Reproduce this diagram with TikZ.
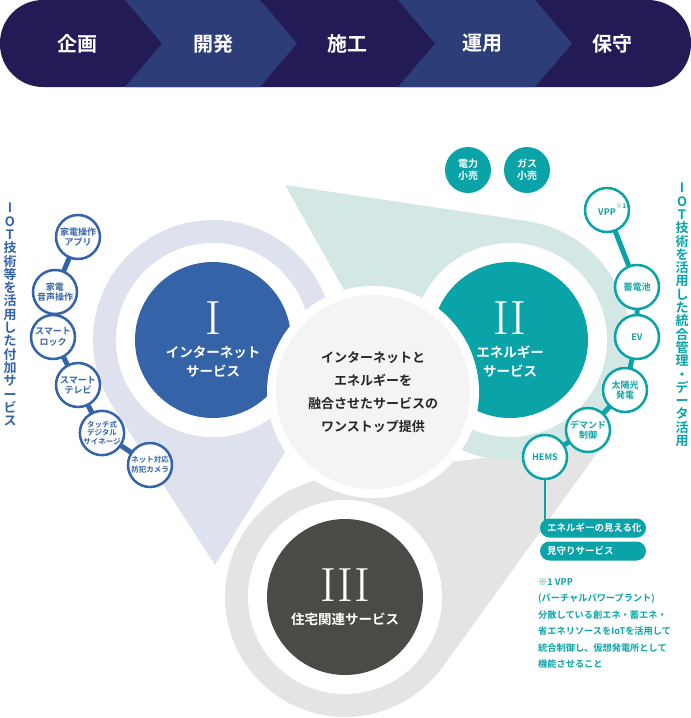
\documentclass[tikz,border=0pt]{standalone}
\usepackage{fontspec}
\setmainfont{Noto Sans CJK JP}[BoldFont=Noto Sans CJK JP Bold]
\newfontfamily\numfont{Latin Modern Roman}
\usetikzlibrary{positioning,calc}
\definecolor{navy1}{HTML}{231B55}
\definecolor{navy2}{HTML}{2D3D78}
\definecolor{blue1}{HTML}{3463A8}
\definecolor{teal1}{HTML}{0AA3A8}
\definecolor{dark1}{HTML}{4A4A46}
\definecolor{lav1}{HTML}{DDE2EE}
\definecolor{mint1}{HTML}{D3E8E5}
\definecolor{gray1}{HTML}{E4E4E4}
\definecolor{pale1}{HTML}{F4F4F4}
\begin{document}
\begin{tikzpicture}[x=1pt,y=-1pt,
    stage/.style={font=\fontsize{20}{20}\selectfont\bfseries, text=white},
    big/.style={circle, minimum size=156pt, inner sep=0pt, text=white, align=center,
                font=\fontsize{13.5}{19}\selectfont\bfseries},
    halo/.style={circle, minimum size=240pt, inner sep=0pt},
    ring/.style={circle, fill=white, minimum size=194pt, inner sep=0pt},
    item/.style={circle, draw=#1, line width=2.5pt, fill=white, text=#1, minimum size=44pt,
                 inner sep=0pt, align=center, font=\fontsize{9}{10.5}\selectfont\bfseries},
    fitem/.style={circle, fill=teal1, text=white, minimum size=46pt, inner sep=0pt,
                  align=center, font=\fontsize{10}{12}\selectfont\bfseries},
    link/.style={line width=5pt, #1},
    pill/.style={rounded corners=9.5pt, fill=teal1, text=white, minimum width=106pt,
                 minimum height=19pt, inner sep=0pt, text width=92pt,
                 font=\fontsize{9.5}{10}\selectfont\bfseries},
    vtext/.style={align=center, font=\fontsize{13}{13.3}\selectfont\bfseries, inner sep=0pt},
]
\useasboundingbox (0,0) rectangle (691,718);
% process bar
\fill[navy1, rounded corners=43pt] (0,0) rectangle (691,87);
\fill[navy2] (125,0) -- (260,0) -- (297,43.5) -- (260,87) -- (125,87) -- (162,43.5) -- cycle;
\fill[navy2] (398,0) -- (535,0) -- (572,43.5) -- (535,87) -- (398,87) -- (435,43.5) -- cycle;
\node[stage] (s1) at (77,43.5) {企画};
\node[stage] (s2) at (213,43.5) {開発};
\node[stage] (s3) at (347,43.5) {施工};
\node[stage] (s4) at (482,43.5) {運用};
\node[stage] (s5) at (612,43.5) {保守};
% halos
\node[halo, fill=gray1] (h3) at (345,597) {};
\coordinate (t3) at (605,442);
\fill[gray1] (t3) -- (tangent cs:node=h3,point={(t3)},solution=1) -- (h3.center)
  -- (tangent cs:node=h3,point={(t3)},solution=2) -- cycle;
\node[halo, fill=mint1] (h2) at (510,340) {};
\coordinate (t2) at (285,185);
\fill[mint1] (t2) -- (tangent cs:node=h2,point={(t2)},solution=1) -- (h2.center)
  -- (tangent cs:node=h2,point={(t2)},solution=2) -- cycle;
\node[halo, fill=lav1] (h1) at (213,340) {};
\coordinate (t1) at (215,565);
\fill[lav1] (t1) -- (tangent cs:node=h1,point={(t1)},solution=1) -- (h1.center)
  -- (tangent cs:node=h1,point={(t1)},solution=2) -- cycle;
\node[ring] at (h1.center) {};
\node[ring] at (h2.center) {};
\node[ring] at (h3.center) {};
% main circles
\node[big, fill=blue1] (c1) at (h1.center) {{\numfont\mdseries\fontsize{48}{40}\selectfont I}\\[4pt]インターネット\\サービス};
\node[big, fill=teal1] (c2) at (h2.center) {{\numfont\mdseries\fontsize{48}{40}\selectfont II}\\[4pt]エネルギー\\サービス};
\node[big, fill=dark1] (c3) at (h3.center) {{\numfont\mdseries\fontsize{48}{40}\selectfont III}\\[4pt]住宅関連サービス};
\node[circle, fill=white, minimum size=212pt] (c0r) at (373,392) {};
\node[circle, fill=pale1, minimum size=194pt, inner sep=0pt, align=center, text=black!85,
      font=\fontsize{13}{23}\selectfont\bfseries] (c0) at (373,392)
      {インターネットと\\エネルギーを\\融合させたサービスの\\ワンストップ提供};
% left items
\coordinate (l1) at (78,237); \coordinate (l2) at (55,292); \coordinate (l3) at (53,337);
\coordinate (l4) at (78,385); \coordinate (l5) at (102,433); \coordinate (l6) at (150,465);
\draw[link=blue1] (l1) -- (l2) -- (l3) -- (l4) -- (l5) -- (l6);
\node[item=blue1] (a1) at (l1) {家電操作\\アプリ};
\node[item=blue1] (a2) at (l2) {家電\\音声操作};
\node[item=blue1] (a3) at (l3) {スマート\\ロック};
\node[item=blue1] (a4) at (l4) {スマート\\テレビ};
\node[item=blue1, font=\fontsize{7.5}{8.5}\selectfont\bfseries] (a5) at (l5) {タッチ式\\デジタル\\サイネージ};
\node[item=blue1, font=\fontsize{7.5}{10}\selectfont\bfseries] (a6) at (l6) {ネット対応\\防犯カメラ};
% right items
\coordinate (r1) at (607,210); \coordinate (r2) at (637,287); \coordinate (r3) at (637,337);
\coordinate (r4) at (625,390); \coordinate (r5) at (588,430); \coordinate (r6) at (545,457);
\coordinate (hb) at (545,528);
\draw[link=teal1] (r1) -- (r2) -- (r3) -- (r4) -- (r5) -- (r6);
\draw[teal1, line width=2pt] (r6) -- (hb);
\node[item=teal1] (b1) at (r1) {VPP\rlap{\raisebox{7pt}{\fontsize{6.5}{6}\selectfont ※1}}};
\node[item=teal1] (b2) at (r2) {蓄電池};
\node[item=teal1] (b3) at (r3) {EV};
\node[item=teal1] (b4) at (r4) {太陽光\\発電};
\node[item=teal1] (b5) at (r5) {デマンド\\制御};
\node[item=teal1] (b6) at (r6) {HEMS};
\node[fitem] (e1) at (468,170) {電力\\小売};
\node[fitem] (e2) at (527,170) {ガス\\小売};
\node[pill] (p1) at (593,528) {エネルギーの見える化};
\node[pill] (p2) at (593,551) {見守りサービス};
% side texts
\node[vtext, text=blue1, anchor=north] (vl) at (10,203)
  {I\\O\\T\\技\\術\\等\\を\\活\\用\\し\\た\\付\\加\\サ\\ー\\ビ\\ス};
\node[vtext, text=teal1, anchor=north] (vr) at (682,183)
  {I\\O\\T\\技\\術\\を\\活\\用\\し\\た\\統\\合\\管\\理\\・\\デ\\ー\\タ\\活\\用};
% note
\node[anchor=north west, align=left, text=teal1, inner sep=0pt,
      font=\fontsize{9.2}{16.5}\selectfont\bfseries] (note) at (538,578)
  {※1 VPP\\(バーチャルパワープラント)\\分散している創エネ・蓄エネ・\\省エネリソースをIoTを活用して\\統合制御し、仮想発電所として\\機能させること};
\end{tikzpicture}
\end{document}
